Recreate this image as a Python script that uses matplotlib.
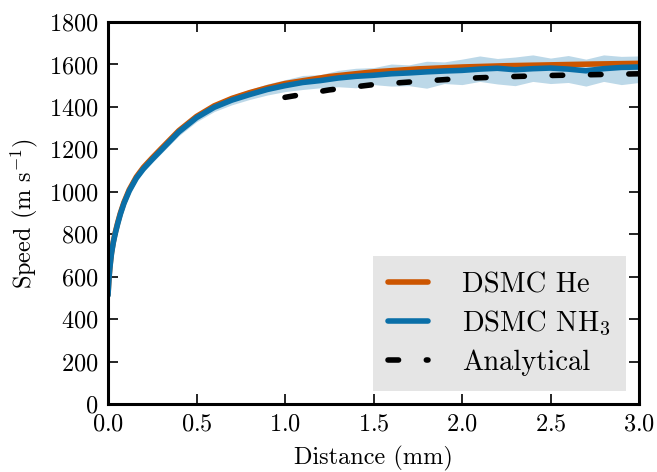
import numpy as np
import matplotlib
matplotlib.use("Agg")
import matplotlib.pyplot as plt

plt.rcParams['font.family'] = 'serif'
plt.rcParams['font.serif'] = ['cmr10']
plt.rcParams['mathtext.fontset'] = 'cm'
plt.rcParams['axes.formatter.use_mathtext'] = True

# DSMC He (smooth)
x_he = [0, 0.003, 0.006, 0.01, 0.015, 0.02, 0.03, 0.04, 0.055, 0.07, 0.09,
        0.12, 0.16, 0.2, 0.25, 0.3, 0.4, 0.5, 0.6, 0.7, 0.8, 0.9,
        1.0, 1.25, 1.5, 1.75, 2.0, 2.25, 2.5, 2.75, 3.0]
he = [515, 560, 600, 640, 680, 715, 765, 805, 855, 900, 950,
      1010, 1070, 1115, 1160, 1203, 1288, 1355, 1405, 1440, 1467, 1490,
      1510, 1543, 1565, 1579, 1588, 1594, 1598, 1602, 1605]

# DSMC NH3 with spread
x_nh3 = [0, 0.003, 0.006, 0.01, 0.015, 0.02, 0.03, 0.04, 0.055, 0.07, 0.09,
         0.12, 0.16, 0.2, 0.25, 0.3, 0.4, 0.5, 0.6, 0.7,
         0.8, 0.9, 1.0, 1.1, 1.2, 1.3, 1.4, 1.5, 1.6, 1.7, 1.8, 1.9, 2.0, 2.1,
         2.2, 2.3, 2.4, 2.5, 2.6, 2.7, 2.8, 2.9, 3.0]
nh3 = [512, 556, 596, 636, 676, 711, 761, 800, 850, 895, 945,
       1004, 1064, 1108, 1153, 1196, 1282, 1349, 1398, 1432,
       1458, 1482, 1500, 1515, 1524, 1536, 1544, 1549, 1556, 1560, 1565, 1569,
       1572, 1578, 1582, 1575, 1580, 1583, 1578, 1570, 1580, 1586, 1588]
nh3_hi = [522, 566, 606, 646, 686, 721, 771, 811, 861, 906, 957,
          1016, 1077, 1122, 1168, 1212, 1300, 1368, 1418, 1455,
          1482, 1508, 1528, 1548, 1552, 1572, 1582, 1585, 1602, 1598, 1615, 1612,
          1625, 1640, 1628, 1635, 1645, 1630, 1642, 1625, 1645, 1638, 1640]
nh3_lo = [502, 546, 586, 626, 666, 701, 751, 790, 839, 884, 933,
          992, 1051, 1094, 1138, 1180, 1264, 1330, 1378, 1410,
          1435, 1456, 1472, 1482, 1490, 1495, 1490, 1505, 1498, 1500, 1488, 1510,
          1505, 1520, 1508, 1500, 1520, 1510, 1515, 1498, 1520, 1505, 1515]

# analytical
x_an = [1.0, 1.25, 1.5, 1.75, 2.0, 2.25, 2.5, 2.75, 3.0]
an = [1445, 1480, 1505, 1520, 1534, 1542, 1548, 1552, 1556]

c_he = '#cc5500'
c_nh3 = '#0a6fa8'
c_band = '#bcd8e8'

fig = plt.figure(figsize=(6.57, 4.72), dpi=100)
ax = fig.add_axes([0.1644, 0.144, 0.8082, 0.8094])

ax.fill_between(x_nh3, nh3_lo, nh3_hi, color=c_band, lw=0)
ax.plot(x_he, he, color=c_he, lw=4, solid_capstyle='round', label='DSMC He')
ax.plot(x_nh3, nh3, color=c_nh3, lw=4, solid_capstyle='round', label='DSMC NH$_3$')
ax.plot(x_an, an, color='k', lw=4, dashes=[1.9, 5.0], dash_capstyle='round',
        label='Analytical')

ax.set_xlim(0, 3.0)
ax.set_ylim(0, 1800)
ax.set_xticks(np.arange(0, 3.01, 0.5))
ax.set_yticks(np.arange(0, 1801, 200))
ax.tick_params(direction='in', length=7, width=1.2, top=True, right=True,
               labelsize=17.5, pad=7)
for s in ax.spines.values():
    s.set_linewidth(2.2)
ax.set_xlabel('Distance (mm)', fontsize=17.5, labelpad=7)
ax.set_ylabel('Speed (m s$^{-1}$)', fontsize=17.5, labelpad=6)

leg = ax.legend(loc='lower right', fontsize=20.5, frameon=True, fancybox=False,
                facecolor='#e5e5e5', edgecolor='none', framealpha=1,
                handlelength=1.38, handletextpad=1.2, labelspacing=0.38,
                borderpad=0.55, borderaxespad=0.45)

fig.savefig('out.png', dpi=100)
